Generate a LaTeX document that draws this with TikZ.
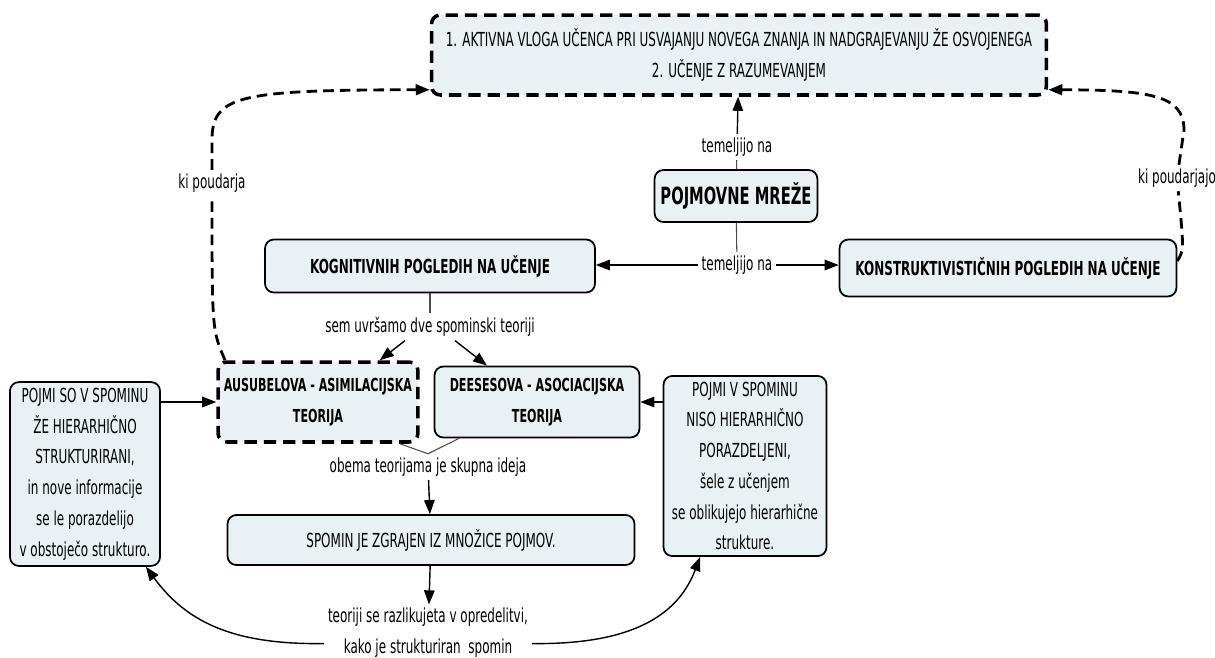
\documentclass[tikz,border=0pt]{standalone}
\usepackage{fontspec}
\setmainfont{DejaVu Sans}[FakeStretch=0.62]
\usetikzlibrary{arrows.meta}
\definecolor{boxfill}{RGB}{234,241,244}

\begin{document}
\begin{tikzpicture}[x=0.02cm, y=-0.02cm,
  box/.style={draw, fill=boxfill, rounded corners=5pt, line width=1pt, align=center, font=\fontsize{11}{17.5}\selectfont},
  dbox/.style={box, line width=2pt, dash pattern=on 7pt off 4pt},
  lbl/.style={align=center, inner sep=2pt, font=\fontsize{11}{17.5}\selectfont},
  arr/.style={line width=0.8pt, -{Triangle[length=8pt,width=6pt]}},
  darr/.style={line width=1.6pt, dash pattern=on 6pt off 3.5pt, -{Triangle[length=8pt,width=6pt]}},
  ln/.style={line width=0.6pt, black!70}]
  \useasboundingbox (0,0) rectangle (1215,657);

  % Draw the boxes
  \node[dbox, minimum width=12.3cm, minimum height=1.6cm] (top) at (739,55)
    {1. AKTIVNA VLOGA UČENCA PRI USVAJANJU NOVEGA ZNANJA IN NADGRAJEVANJU ŽE OSVOJENEGA\\2. UČENJE Z RAZUMEVANJEM};
  \node[box, font=\fontsize{13.5}{15}\selectfont\bfseries, minimum width=3.16cm, minimum height=1.04cm] (pm) at (736,196) {POJMOVNE MREŽE};
  \node[box, font=\fontsize{11}{17.5}\selectfont\bfseries, minimum width=6.6cm, minimum height=1.06cm] (kog) at (430,266) {KOGNITIVNIH POGLEDIH NA UČENJE};
  \node[box, font=\fontsize{11}{17.5}\selectfont\bfseries, minimum width=6.74cm, minimum height=1.14cm] (kon) at (1008,268) {KONSTRUKTIVISTIČNIH POGLEDIH NA UČENJE};
  \node[dbox, font=\fontsize{10.2}{18}\selectfont\bfseries, minimum width=4cm, minimum height=1.6cm] (aus) at (318,402) {AUSUBELOVA - ASIMILACIJSKA\\TEORIJA};
  \node[box, font=\fontsize{10.2}{18}\selectfont\bfseries, minimum width=4.1cm, minimum height=1.42cm] (dee) at (537,402) {DEESESOVA - ASOCIACIJSKA\\TEORIJA};
  \node[box, minimum width=3cm, minimum height=3.64cm] (lbox) at (85,474)
    {POJMI SO V SPOMINU\\ŽE HIERARHIČNO\\STRUKTURIRANI,\\in nove informacije\\se le porazdelijo\\v obstoječo strukturo.};
  \node[box, minimum width=3.26cm, minimum height=3.54cm] (rbox) at (745,466)
    {POJMI V SPOMINU\\NISO HIERARHIČNO\\PORAZDELJENI,\\šele z učenjem\\se oblikujejo hierarhične\\strukture.};
  \node[box, minimum width=8.14cm, minimum height=1cm] (spom) at (431,540) {SPOMIN JE ZGRAJEN IZ MNOŽICE POJMOV.};

  % Add labels
  \node[lbl] (tem1) at (737,147) {temeljijo na};
  \node[lbl] (tem2) at (737,265) {temeljijo na};
  \node[lbl] (kip1) at (212,183) {ki poudarja};
  \node[lbl] (kip2) at (1177,178) {ki poudarjajo};
  \node[lbl] (sem) at (430,327) {sem uvršamo dve spominski teoriji};
  \node[lbl] (obema) at (428,467) {obema teorijama je skupna ideja};
  \node[lbl] (teo) at (428,633) {teoriji se razlikujeta v opredelitvi,\\kako je strukturiran\ \ spomin};

  % Draw the connectors
  \draw[ln] (pm) -- (tem1);
  \draw[arr] (tem1) -- (top);
  \draw[ln] (pm) -- (tem2);
  \draw[arr] (tem2) -- (tem2 -| kog.east);
  \draw[arr] (tem2) -- (tem2 -| kon.west);
  \draw[ln] (kog) -- (sem);
  \draw[arr] ([xshift=-0.5cm]sem.south) -- ([xshift=-0.8cm]aus.north east);
  \draw[arr] ([xshift=0.5cm]sem.south) -- ([xshift=-1cm]dee.north);
  \draw[arr] (lbox.east |- aus.west) -- (aus.west);
  \draw[arr] (rbox.west |- dee.east) -- (dee.east);
  \draw[ln] (aus.-27) -- (obema.north) -- (dee.-155);
  \draw[arr] (obema) -- (spom);
  \draw[arr] (spom) -- (teo);
  \draw[arr] ([yshift=-6pt]teo.west) .. controls (230,645) and (185,620) .. ([xshift=-0.3cm]lbox.south east);
  \draw[arr] ([yshift=-6pt]teo.east) .. controls (640,645) and (680,610) .. ([xshift=0.75cm]rbox.south west);

  % Dashed ropes up to the top box
  \draw[darr] ([xshift=5pt]aus.north west) .. controls (212,330) .. (kip1) -- (212,140)
    .. controls (212,95) and (240,90) .. ([yshift=4pt]top.south west);
  \draw[darr] ([yshift=4pt]kon.east) .. controls (1184,250) .. (kip2) -- (1184,130)
    .. controls (1184,95) and (1150,90) .. ([yshift=4pt]top.south east);
\end{tikzpicture}
\end{document}
